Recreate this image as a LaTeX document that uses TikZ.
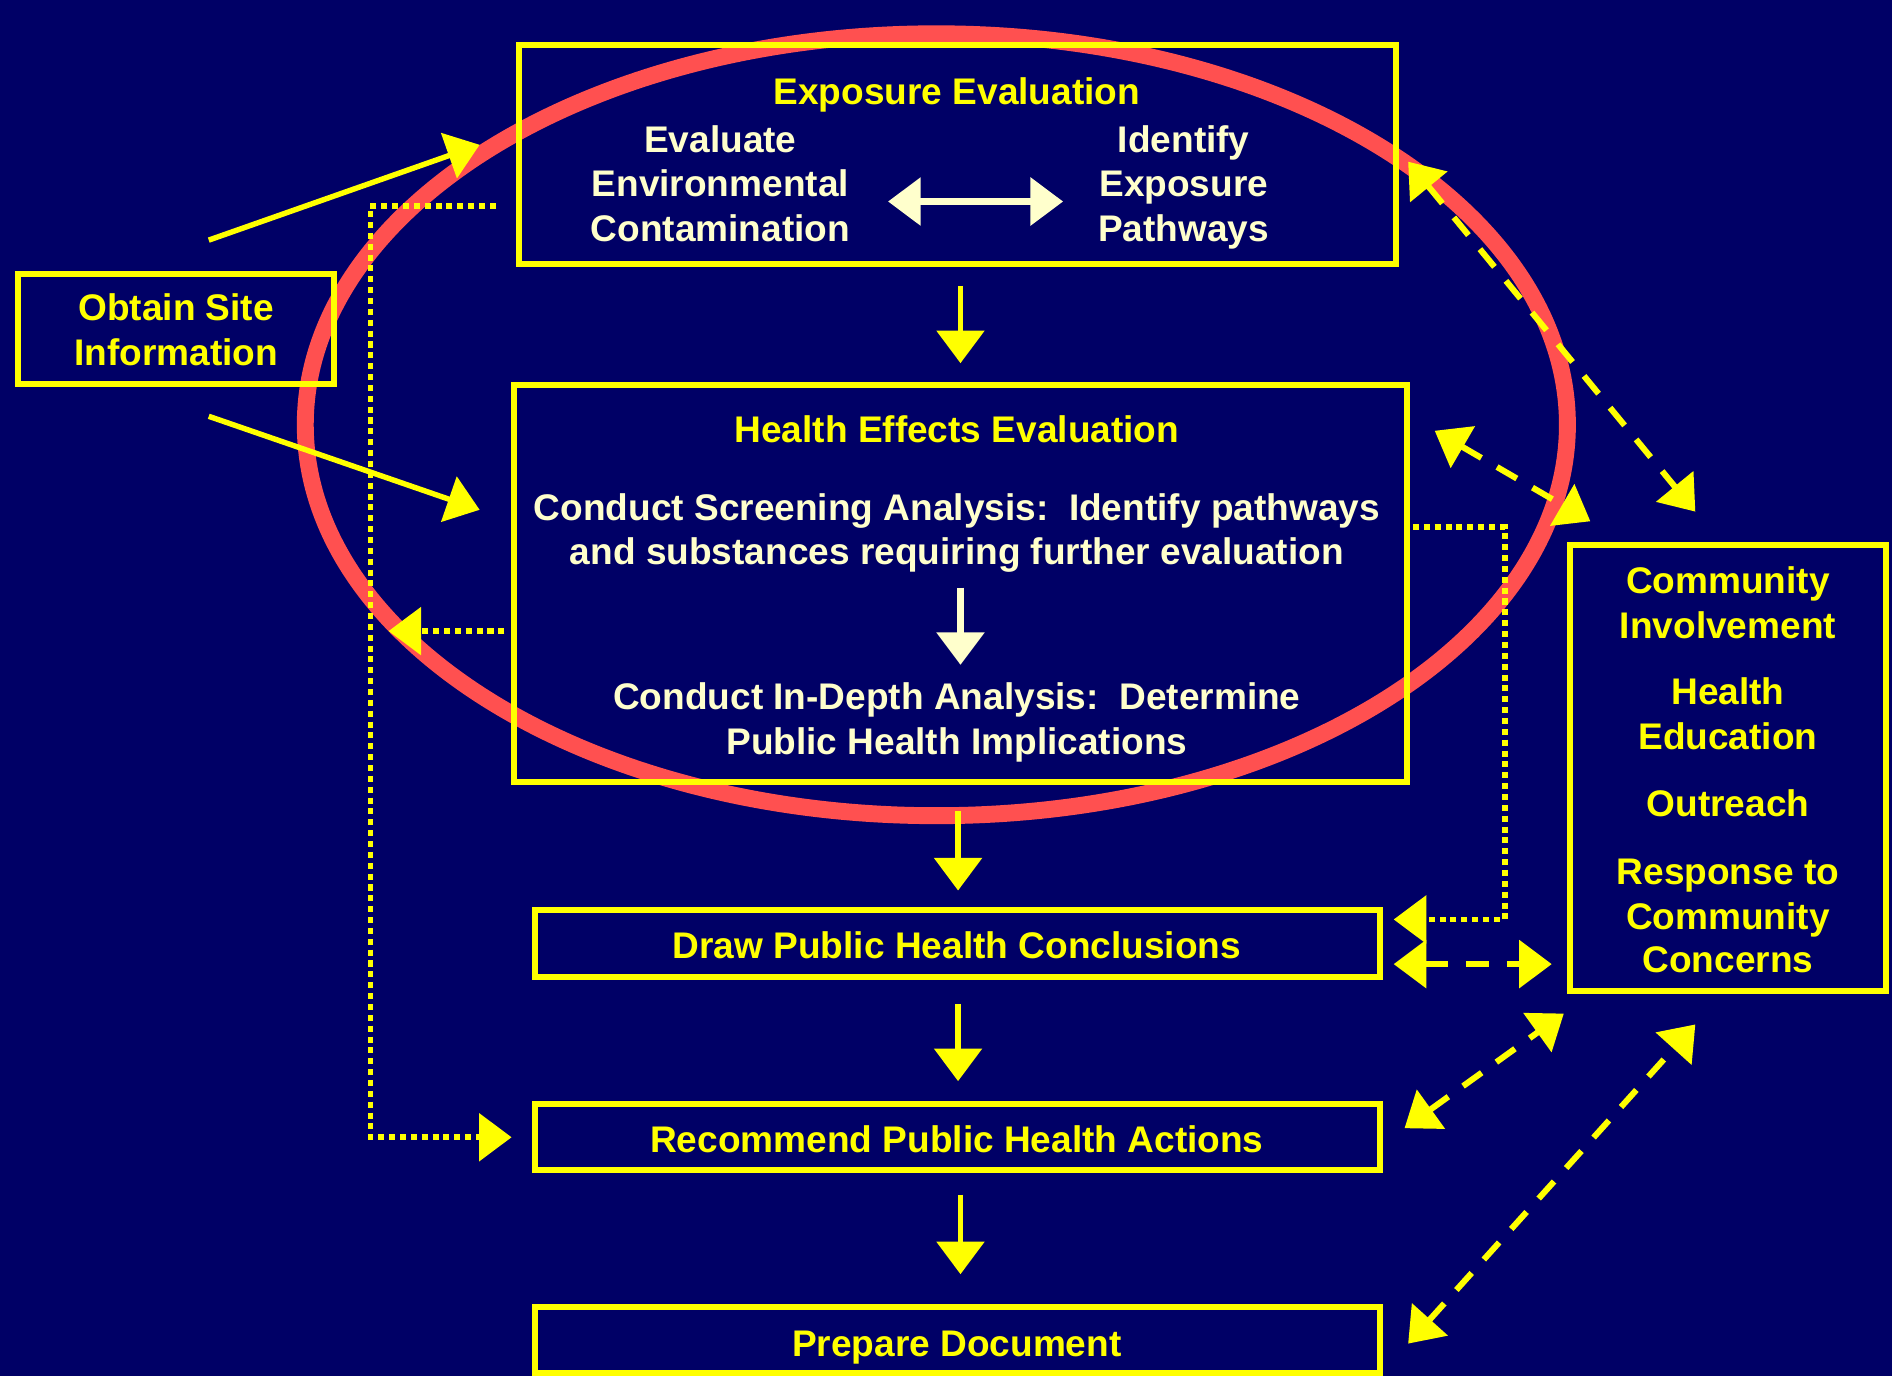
\documentclass[tikz,border=0pt]{standalone}
\usepackage{fontspec}
\setmainfont{Liberation Sans}
\usetikzlibrary{arrows.meta,calc}
\definecolor{bgc}{HTML}{000066}
\definecolor{yel}{HTML}{FFFF00}
\definecolor{crm}{HTML}{FFFFCC}
\definecolor{redc}{HTML}{FF5050}
\tikzset{
  bigtip/.tip={Triangle[width=39pt,length=27pt]},
  box/.style={draw=yel, line width=5pt, inner sep=0pt, outer sep=0pt, rectangle},
  ytxt/.style={text=yel, anchor=base, inner sep=0pt},
  ctxt/.style={text=crm, anchor=base, inner sep=0pt},
  yarr/.style={draw=yel, line width=4.5pt, -bigtip},
  warr/.style={draw=crm, line width=5pt, -bigtip},
  wdarr/.style={draw=crm, line width=5pt, bigtip-bigtip},
  ydot/.style={draw=yel, line width=4.8pt, dash pattern=on 5pt off 4pt, -bigtip},
  ydash/.style={draw=yel, line width=5pt, dash pattern=on 19pt off 15pt, bigtip-bigtip},
}
\begin{document}
\begin{tikzpicture}[x=1pt,y=-1pt,font=\bfseries\fontsize{30.7}{37}\selectfont]
\fill[bgc] (0,0) rectangle (1568,1140);
\useasboundingbox (0,0) rectangle (1568,1140);
% red ellipse
\draw[redc, line width=14pt] (776,352) ellipse [x radius=523pt, y radius=324pt];
% boxes
\node[box, minimum width=727pt, minimum height=182pt] (expo) at (793.5,128) {};
\node[box, minimum width=740pt, minimum height=329pt] (health) at (796,483.5) {};
\node[box, minimum width=701pt, minimum height=56pt] (draw) at (793.5,782) {};
\node[box, minimum width=701pt, minimum height=55pt] (rec) at (793.5,942.5) {};
\node[box, minimum width=701pt, minimum height=55pt] (prep) at (793.5,1110.5) {};
\node[box, minimum width=262pt, minimum height=369pt] (comm) at (1432,636.5) {};
\node[box, minimum width=262pt, minimum height=91pt] (obtain) at (146,272.5) {};
% texts
\node[ytxt] (t-expo) at (793,87) {Exposure Evaluation};
\node[ctxt] (t-ev1) at (597,126) {Evaluate};
\node[ctxt] (t-ev2) at (597,163) {Environmental};
\node[ctxt] (t-ev3) at (597,200) {Contamination};
\node[ctxt] (t-id1) at (981,126) {Identify};
\node[ctxt] (t-id2) at (981,163) {Exposure};
\node[ctxt] (t-id3) at (981,200) {Pathways};
\node[ytxt] (t-health) at (793,367) {Health Effects Evaluation};
\node[ctxt] (t-scr1) at (793,431) {Conduct Screening Analysis:~~Identify pathways};
\node[ctxt] (t-scr2) at (793,468) {and substances requiring further evaluation};
\node[ctxt] (t-ind1) at (793,588) {Conduct In-Depth Analysis:~~Determine};
\node[ctxt] (t-ind2) at (793,625) {Public Health Implications};
\node[ytxt] (t-draw) at (793,794) {Draw Public Health Conclusions};
\node[ytxt] (t-rec) at (793,955) {Recommend Public Health Actions};
\node[ytxt] (t-prep) at (793,1124) {Prepare Document};
\node[ytxt] (t-c1) at (1432,492) {Community};
\node[ytxt] (t-c2) at (1432,529) {Involvement};
\node[ytxt] (t-c3) at (1432,584) {Health};
\node[ytxt] (t-c4) at (1432,621) {Education};
\node[ytxt] (t-c5) at (1432,677) {Outreach};
\node[ytxt] (t-c6) at (1432,733) {Response to};
\node[ytxt] (t-c7) at (1432,770) {Community};
\node[ytxt] (t-c8) at (1432,806) {Concerns};
\node[ytxt] (t-o1) at (146,266) {Obtain Site};
\node[ytxt] (t-o2) at (146,303) {Information};
% white arrows
\draw[wdarr] ($(expo.center)+(-57.5,39)$) -- ($(expo.center)+(87.5,39)$);
\draw[warr] ($(health.center)+(0,3.5)$) -- ($(health.center)+(0,67.5)$);
% yellow flow arrows
\draw[yarr] ($(expo.south)+(2.5,18)$) -- ($(health.north)+(0,-18)$);
\draw[yarr] ($(health.south)+(-2,24)$) -- ($(draw.north)+(0.5,-16)$);
\draw[yarr] ($(draw.south)+(0.5,22)$) -- ($(rec.north)+(0.5,-19)$);
\draw[yarr] ($(rec.south)+(2.5,20)$) -- ($(prep.north)+(2.5,-27)$);
% obtain arrows
\draw[yarr] ($(obtain.north)+(27,-28)$) -- ($(expo.west)+(-32.5,-8)$);
\draw[yarr] ($(obtain.south)+(27,27)$) -- ($(health.west)+(-28.5,-61)$);
% dotted feedback
\draw[ydot] ($(expo.west)+(-19,43)$) -- ++(-104,0) |- ($(rec.west)+(-19,0)$);
\draw[ydot] ($(health.west)+(-8,39.5)$) -- ++(-96,0);
\draw[ydot] ($(health.east)+(5,-46.5)$) -- ++(76,0) |- ($(draw.east)+(11,-20)$);
% dashed community links
\draw[ydash] ($(draw.east)+(11,17)$) -- ($(comm.south west)+(-15,-22)$);
\draw[ydash] ($(rec.east)+(20,-7.5)$) -- ($(comm.south west)+(-5,19)$);
\draw[ydash] ($(prep.east)+(23,3)$) -- ($(comm.south)+(-27,28)$);
\draw[ydash] ($(expo.east)+(10,6)$) -- ($(comm.north)+(-27,-28)$);
\draw[ydash] ($(health.north east)+(23,38)$) -- ($(comm.north west)+(17,-20)$);
\end{tikzpicture}
\end{document}
